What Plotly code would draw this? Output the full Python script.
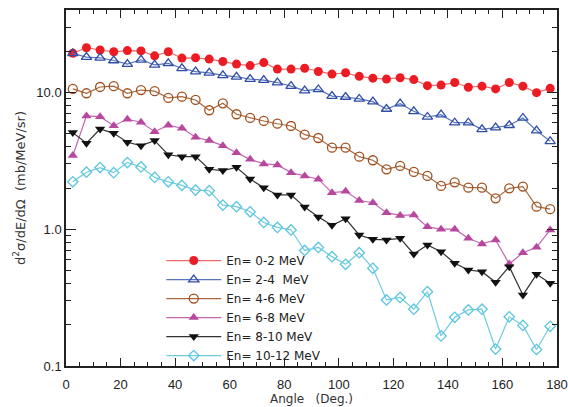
import plotly.graph_objects as go

angles = [2.5 + 5 * i for i in range(36)]

en_0_2 = [19.3, 21.2, 20.4, 19.8, 20.2, 20.1, 18.5, 19.8, 17.8, 17.9, 17.5, 16.8,
          16.1, 15.7, 16.5, 14.8, 14.8, 15.0, 14.2, 13.6, 13.9, 13.1, 12.7, 12.5,
          12.8, 12.4, 11.2, 11.3, 11.8, 10.9, 11.1, 10.6, 11.8, 11.1, 9.95, 10.7]
en_2_4 = [19.3, 18.1, 17.9, 17.1, 16.1, 17.3, 15.9, 16.3, 15.0, 14.2, 13.9, 13.3,
          13.0, 12.5, 12.3, 11.8, 11.1, 10.3, 10.5, 9.4, 9.25, 8.95, 8.55, 7.56,
          8.27, 7.27, 6.61, 6.87, 6.0, 6.0, 5.37, 5.52, 5.75, 6.5, 5.25, 4.39]
en_4_6 = [10.6, 9.85, 10.95, 11.1, 9.85, 10.4, 10.2, 9.1, 9.3, 8.8, 7.4, 8.32,
          6.92, 6.5, 6.18, 5.9, 5.68, 4.91, 4.64, 3.94, 3.94, 3.39, 3.19, 2.74,
          2.90, 2.62, 2.45, 2.07, 2.20, 2.01, 2.01, 1.68, 1.99, 2.05, 1.46, 1.40]
en_6_8 = [3.45, 6.72, 6.64, 5.71, 6.36, 6.05, 5.16, 5.75, 5.47, 4.70, 4.44, 4.08,
          3.62, 3.24, 3.0, 2.95, 2.59, 2.45, 2.32, 1.85, 1.89, 1.62, 1.56, 1.32,
          1.26, 1.27, 1.04, 1.0, 1.0, 0.858, 0.78, 0.834, 0.557, 0.673, 0.737, 0.987]
en_8_10 = [5.08, 4.25, 5.40, 5.02, 4.32, 4.08, 4.44, 3.50, 3.39, 3.39, 2.74, 2.68,
           2.83, 2.33, 2.01, 1.78, 1.78, 1.45, 1.23, 1.07, 1.19, 0.907, 0.843, 0.834,
           0.858, 0.659, 0.766, 0.685, 0.563, 0.503, 0.489, 0.409, 0.532, 0.330, 0.468, 0.402]
en_10_12 = [2.22, 2.61, 2.82, 2.59, 3.07, 2.85, 2.39, 2.22, 2.09, 1.93, 1.91, 1.50,
            1.46, 1.34, 1.12, 1.03, 0.987, 0.699, 0.735, 0.63, 0.554, 0.673, 0.518, 0.304,
            0.317, 0.26, 0.349, 0.166, 0.227, 0.257, 0.26, 0.133, 0.229, 0.198, 0.132, 0.195]

series_names = ["En= 0-2 MeV", "En= 2-4\u00a0\u00a0MeV", "En= 4-6 MeV",
                "En= 6-8 MeV", "En= 8-10 MeV", "En= 10-12 MeV"]
series_vals = [en_0_2, en_2_4, en_4_6, en_6_8, en_8_10, en_10_12]
line_colors = ["#f06a6a", "#5a73bb", "#a8663a", "#c266b0", "#333333", "#6fcbe0"]
marker_colors = ["#ec1c24", "#2e4da6", "#a0501e", "#b8489e", "#111111", "#5cc6de"]
symbols = ["circle", "triangle-up-open", "circle-open", "triangle-up", "triangle-down", "diamond-open"]
sizes = [9, 9, 9, 9, 9, 8]

x_ticks = [0, 20, 40, 60, 80, 100, 120, 140, 160, 180]
x_tick_text = ["0", "20", "40", "60", "80", "100", "120", "140", "160", "180"]
y_ticks = [0.1, 1.0, 10.0]
y_tick_text = ["0.1", "1.0", "10.0"]

fig = go.Figure()
for name, vals, lc, mc, sym, sz in zip(series_names, series_vals, line_colors,
                                       marker_colors, symbols, sizes):
    fig.add_trace(go.Scatter(
        x=angles, y=vals, name=name, mode="lines+markers",
        line=dict(color=lc, width=1.2),
        marker=dict(symbol=sym, size=sz, color=mc,
                    line=dict(color=mc, width=1.3 if "open" in sym else 0)),
    ))

font_fam = "DejaVu Sans, Liberation Sans, Arial, sans-serif"
tick_fam = "Liberation Sans, Arial, Helvetica, sans-serif"
minor_y = [v * m for v in (0.1, 1, 10) for m in range(2, 10) if v * m <= 40]

fig.update_layout(
    width=568, height=407,
    margin=dict(l=66, r=11, t=10, b=41),
    paper_bgcolor="white", plot_bgcolor="white",
    font=dict(family=font_fam, size=12, color="#222"),
    showlegend=True,
    legend=dict(x=0.194, y=0.337, xanchor="left", yanchor="top",
                bgcolor="rgba(0,0,0,0)", font=dict(size=12, family=font_fam, color="#222"),
                itemwidth=55, tracegroupgap=0),
    xaxis=dict(
        range=[-0.0001, 180.0001], tickmode="array", tickvals=x_ticks, ticktext=x_tick_text,
        ticks="inside", ticklen=8, tickwidth=1, tickcolor="#222",
        showline=True, linecolor="#222", linewidth=1.5, mirror="allticks",
        showgrid=False, zeroline=False, automargin=False,
        tickfont=dict(size=13, family=tick_fam),
        ticklabelstandoff=6, ticklabeloverflow="allow",
        minor=dict(dtick=5, ticks="inside", ticklen=4, tickcolor="#222", showgrid=False),
        title=dict(text="Angle\u00a0\u00a0\u00a0(Deg.)", font=dict(size=12, family=font_fam, color="#333"),
                   standoff=2),
    ),
    yaxis=dict(
        type="log", range=[-1, 1.60206], tickmode="array", tickvals=y_ticks, ticktext=y_tick_text,
        ticks="inside", ticklen=10, tickwidth=1, tickcolor="#222",
        showline=True, linecolor="#222", linewidth=1.5, mirror="allticks",
        showgrid=False, zeroline=False, automargin=False,
        tickfont=dict(size=13, family=tick_fam), ticklabeloverflow="allow",
        minor=dict(tickmode="array", tickvals=minor_y, ticks="inside", ticklen=5,
                   tickcolor="#222", showgrid=False),
        title=dict(text="d<sup>2</sup>σ/dE/dΩ\u00a0\u00a0(mb/MeV/sr)",
                   font=dict(size=13, family=font_fam, color="#333"), standoff=8),
    ),
)

fig.write_html("out.html", config={"displayModeBar": False},
               post_script="document.body.style.margin='0';document.body.style.padding='0';")
